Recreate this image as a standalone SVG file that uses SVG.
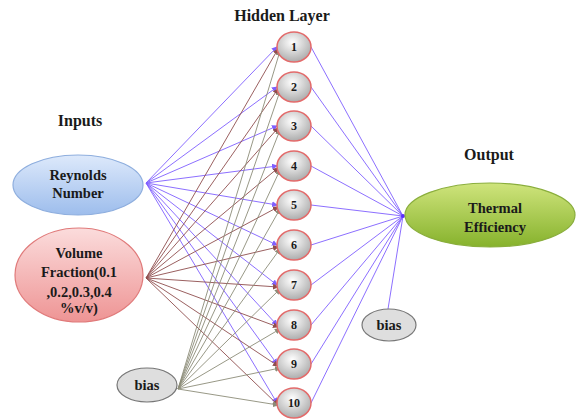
<svg xmlns="http://www.w3.org/2000/svg" width="576" height="420" viewBox="0 0 576 420">
<style>
text{font-family:"Liberation Serif","DejaVu Serif","Times New Roman",serif;font-weight:bold;fill:#1a1a1a;text-anchor:middle}
.title{font-size:16px}
.lbl{font-size:14.5px}
.num{font-size:12px}
.hid{fill:url(#gGray);stroke:#e36a6a;stroke-width:1.5}
.rey{stroke:#7f5fff;stroke-width:0.9;fill:none}
.vol{stroke:#8e4e4e;stroke-width:0.9;fill:none}
.bia{stroke:#8c8c78;stroke-width:0.9;fill:none}
.out{stroke:#7f5fff;stroke-width:0.9;fill:none}
</style>
<defs>
<radialGradient id="gGray" cx="0.45" cy="0.35" r="0.7"><stop offset="0" stop-color="#ffffff"/><stop offset="1" stop-color="#a6a6a6"/></radialGradient>
<linearGradient id="gBlue" x1="0" y1="0" x2="0" y2="1"><stop offset="0" stop-color="#dde9fb"/><stop offset="1" stop-color="#9dbdec"/></linearGradient>
<linearGradient id="gPink" x1="0" y1="0" x2="0" y2="1"><stop offset="0" stop-color="#fbdcdc"/><stop offset="1" stop-color="#ee9494"/></linearGradient>
<linearGradient id="gGreen" x1="0" y1="0" x2="0" y2="1"><stop offset="0" stop-color="#cfe47c"/><stop offset="1" stop-color="#86b22c"/></linearGradient>
<marker id="aP" markerWidth="6" markerHeight="6" refX="5" refY="3" orient="auto" markerUnits="userSpaceOnUse"><path d="M0,0 L6,3 L0,6 z" fill="#7f5fff"/></marker>
<marker id="aV" markerWidth="6" markerHeight="6" refX="5" refY="3" orient="auto" markerUnits="userSpaceOnUse"><path d="M0,0 L6,3 L0,6 z" fill="#8e4e4e"/></marker>
<marker id="aB" markerWidth="6" markerHeight="6" refX="5" refY="3" orient="auto" markerUnits="userSpaceOnUse"><path d="M0,0 L6,3 L0,6 z" fill="#8c8c78"/></marker>
</defs>
<rect width="576" height="420" fill="#ffffff"/>

<g id="connectors">
<g class="rey" marker-end="url(#aP)">
<line x1="146" y1="183" x2="277" y2="47"/><line x1="146" y1="183" x2="277" y2="87"/><line x1="146" y1="183" x2="277" y2="126"/><line x1="146" y1="183" x2="277" y2="166"/><line x1="146" y1="183" x2="277" y2="205"/><line x1="146" y1="183" x2="277" y2="245"/><line x1="146" y1="183" x2="277" y2="285"/><line x1="146" y1="183" x2="277" y2="325"/><line x1="146" y1="183" x2="277" y2="364"/><line x1="146" y1="183" x2="277" y2="403"/>
</g>
<g class="vol" marker-end="url(#aV)">
<line x1="146" y1="278" x2="278" y2="49"/><line x1="146" y1="278" x2="278" y2="89"/><line x1="146" y1="278" x2="278" y2="128"/><line x1="146" y1="278" x2="278" y2="168"/><line x1="146" y1="278" x2="278" y2="207"/><line x1="146" y1="278" x2="278" y2="247"/><line x1="146" y1="278" x2="278" y2="287"/><line x1="146" y1="278" x2="278" y2="327"/><line x1="146" y1="278" x2="278" y2="366"/><line x1="146" y1="278" x2="278" y2="405"/>
</g>
<g class="bia" marker-end="url(#aB)">
<line x1="178" y1="389" x2="280" y2="51"/><line x1="178" y1="389" x2="280" y2="91"/><line x1="178" y1="389" x2="280" y2="130"/><line x1="178" y1="389" x2="280" y2="170"/><line x1="178" y1="389" x2="280" y2="209"/><line x1="178" y1="389" x2="280" y2="249"/><line x1="178" y1="389" x2="280" y2="289"/><line x1="178" y1="389" x2="280" y2="329"/><line x1="178" y1="389" x2="280" y2="368"/><line x1="178" y1="389" x2="278" y2="405"/>
</g>
<g class="out">
<line x1="311" y1="47" x2="403" y2="216"/><line x1="311" y1="87" x2="403" y2="216"/><line x1="311" y1="126" x2="403" y2="216"/><line x1="311" y1="166" x2="403" y2="216"/><line x1="311" y1="205" x2="403" y2="216"/><line x1="311" y1="245" x2="403" y2="216"/><line x1="311" y1="285" x2="403" y2="216"/><line x1="311" y1="325" x2="403" y2="216"/><line x1="311" y1="364" x2="403" y2="216"/><line x1="311" y1="403" x2="403" y2="216"/><line x1="388" y1="309" x2="403" y2="216"/>
</g>
<circle cx="403" cy="216" r="2" fill="#5a2cff"/>
</g>

<text class="title" x="80" y="126">Inputs</text>
<text class="title" x="282" y="21">Hidden Layer</text>
<text class="title" x="489" y="160">Output</text>

<g id="reynolds"><ellipse cx="78" cy="185" rx="65" ry="30" fill="url(#gBlue)" stroke="#8eaede" stroke-width="1.2"/><text class="lbl" x="78" y="180">Reynolds</text><text class="lbl" x="78" y="198">Number</text></g>
<g id="volume"><ellipse cx="79" cy="275" rx="64" ry="47" fill="url(#gPink)" stroke="#e07a7a" stroke-width="1.2"/><text class="lbl" x="79" y="258">Volume</text><text class="lbl" x="79" y="277">Fraction(0.1</text><text class="lbl" x="79" y="297">,0.2,0.3,0.4</text><text class="lbl" x="79" y="313">%v/v)</text></g>
<g id="bias1"><ellipse cx="147" cy="385" rx="30" ry="17" fill="#dedede" stroke="#777" stroke-width="1.2"/><text class="lbl" x="147" y="390">bias</text></g>
<g id="bias2"><ellipse cx="389" cy="325" rx="27" ry="16" fill="#dedede" stroke="#777" stroke-width="1.2"/><text class="lbl" x="389" y="330">bias</text></g>
<g id="output"><ellipse cx="490" cy="215" rx="85" ry="32" fill="url(#gGreen)" stroke="#8aae3c" stroke-width="1.2"/><text class="lbl" x="495" y="213">Thermal</text><text class="lbl" x="495" y="232">Efficiency</text></g>

<g id="h1"><ellipse class="hid" cx="294" cy="47" rx="17" ry="15"/><text class="num" x="294" y="51">1</text></g>
<g id="h2"><ellipse class="hid" cx="294" cy="87" rx="17" ry="15"/><text class="num" x="294" y="91">2</text></g>
<g id="h3"><ellipse class="hid" cx="294" cy="126" rx="17" ry="15"/><text class="num" x="294" y="130">3</text></g>
<g id="h4"><ellipse class="hid" cx="294" cy="166" rx="17" ry="15"/><text class="num" x="294" y="170">4</text></g>
<g id="h5"><ellipse class="hid" cx="294" cy="205" rx="17" ry="15"/><text class="num" x="294" y="209">5</text></g>
<g id="h6"><ellipse class="hid" cx="294" cy="245" rx="17" ry="15"/><text class="num" x="294" y="249">6</text></g>
<g id="h7"><ellipse class="hid" cx="294" cy="285" rx="17" ry="15"/><text class="num" x="294" y="289">7</text></g>
<g id="h8"><ellipse class="hid" cx="294" cy="325" rx="17" ry="15"/><text class="num" x="294" y="329">8</text></g>
<g id="h9"><ellipse class="hid" cx="294" cy="364" rx="17" ry="15"/><text class="num" x="294" y="368">9</text></g>
<g id="h10"><ellipse class="hid" cx="294" cy="403" rx="17" ry="15"/><text class="num" x="294" y="407">10</text></g>
</svg>
